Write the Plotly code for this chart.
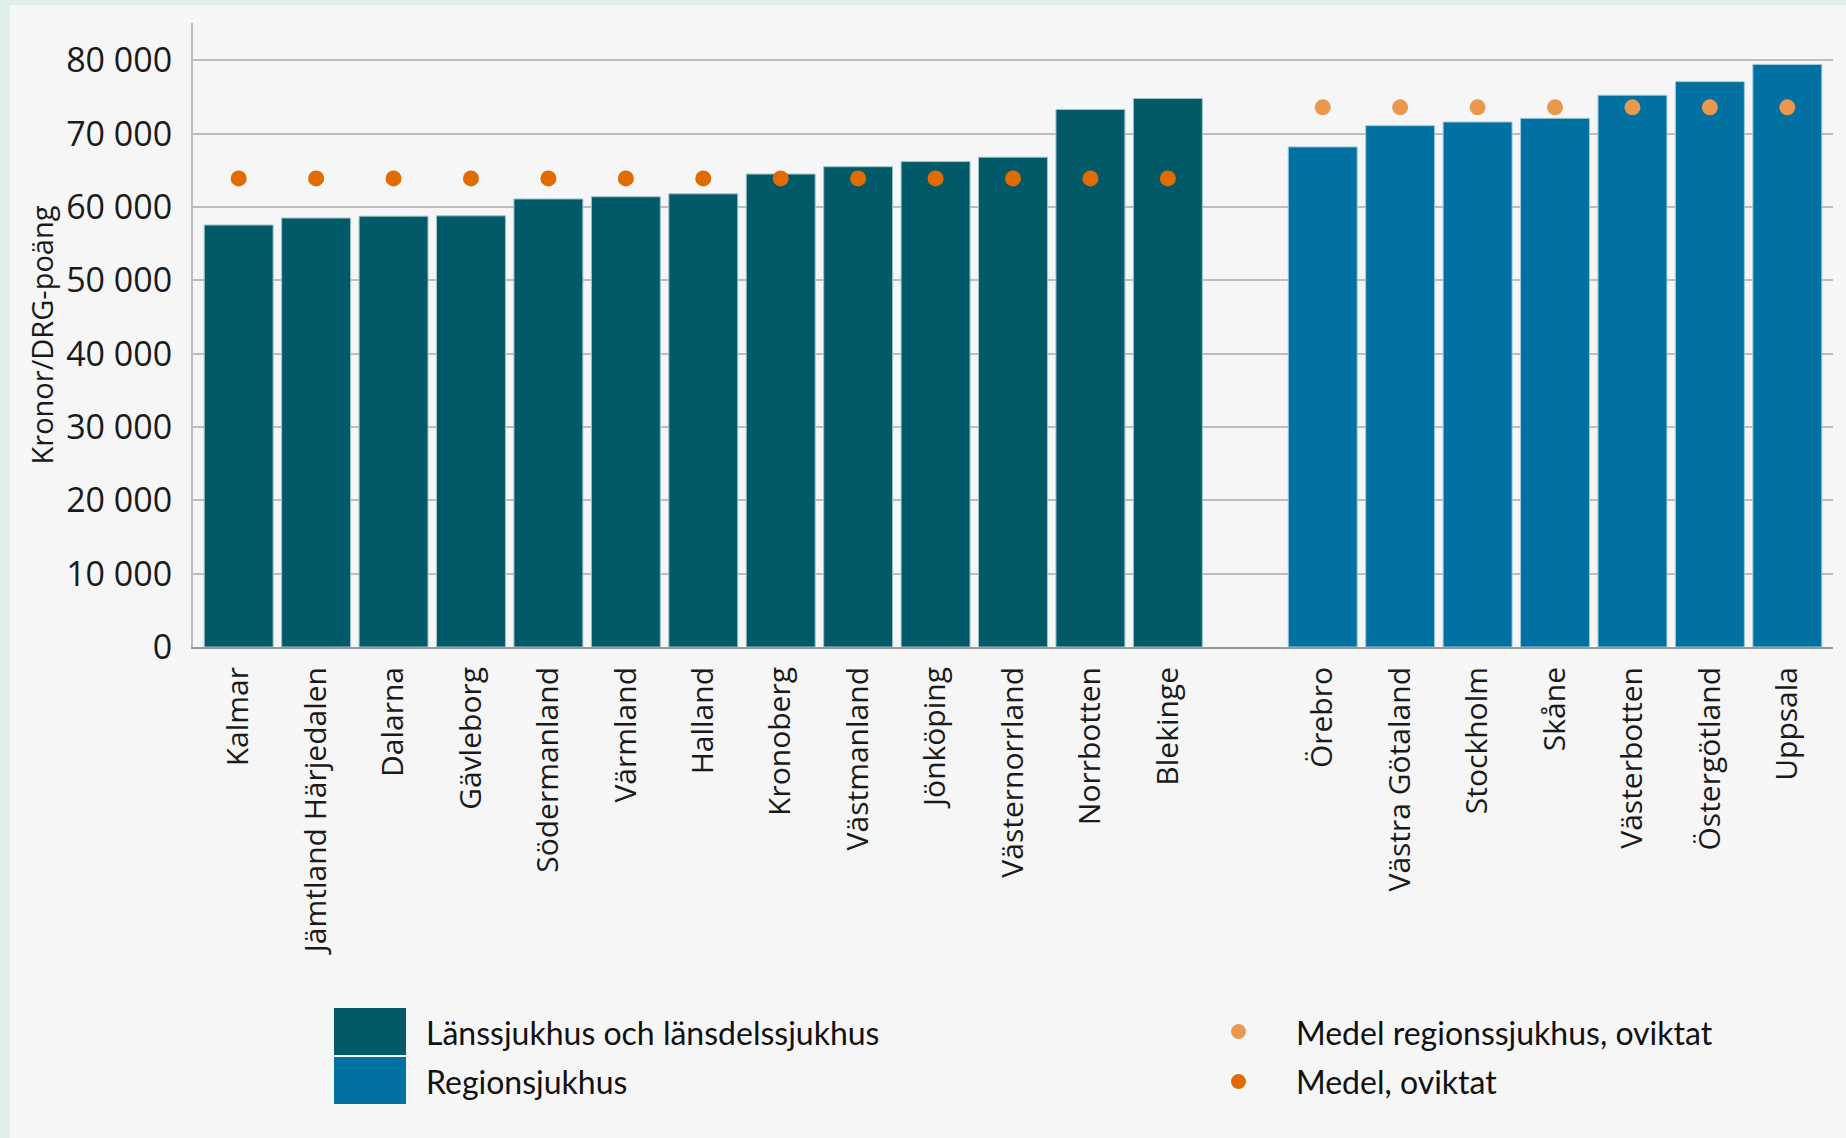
import plotly.graph_objects as go

# Kronor per DRG-poäng
lans_names = ["Kalmar", "Jämtland Härjedalen", "Dalarna", "Gävleborg", "Södermanland",
              "Värmland", "Halland", "Kronoberg", "Västmanland", "Jönköping",
              "Västernorrland", "Norrbotten", "Blekinge"]
lans_values = [57550, 58500, 58750, 58800, 61100, 61400, 61800, 64500, 65500,
               66200, 66800, 73300, 74800]

region_names = ["Örebro", "Västra Götaland", "Stockholm", "Skåne", "Västerbotten",
                "Östergötland", "Uppsala"]
region_values = [68200, 71100, 71600, 72100, 75250, 77100, 79450]

medel_oviktat = [63900] * len(lans_names)
medel_region = [73600] * len(region_names)

spacer = " "
categories = lans_names + [spacer] + region_names
ytick_vals = [0, 10000, 20000, 30000, 40000, 50000, 60000, 70000, 80000]

TEAL = "#025a69"
BLUE = "#0071a1"
ORANGE = "#e06c00"
LIGHT_ORANGE = "#ea984e"
W, H = 1846, 1138
L, R, T, B = 193, 13, 23, 491

fig = go.Figure()
fig.add_trace(go.Bar(x=lans_names, y=lans_values, name="Länssjukhus och länsdelssjukhus",
                     marker=dict(color=TEAL, line=dict(color="#9cc3cb", width=1))))
fig.add_trace(go.Bar(x=region_names, y=region_values, name="Regionsjukhus",
                     marker=dict(color=BLUE, line=dict(color="#9cc8dc", width=1))))
fig.add_trace(go.Scatter(x=lans_names, y=medel_oviktat, mode="markers", name="Medel, oviktat",
                         marker=dict(color=ORANGE, size=16)))
fig.add_trace(go.Scatter(x=region_names, y=medel_region, mode="markers",
                         name="Medel regionssjukhus, oviktat",
                         marker=dict(color=LIGHT_ORANGE, size=16)))


# pixel -> paper helpers for the hand drawn legend and frame
def px(x):
    return (x - L) / (W - L - R)


def py(y):
    return (H - B - y) / (H - B - T)


shapes = [
    # mint frame on left and top
    dict(type="rect", xref="paper", yref="paper", x0=px(0), x1=px(10), y0=py(H), y1=py(0),
         fillcolor="#e1efeb", line=dict(width=0), layer="below"),
    dict(type="rect", xref="paper", yref="paper", x0=px(0), x1=px(W), y0=py(5), y1=py(0),
         fillcolor="#e1efeb", line=dict(width=0), layer="below"),
    # legend swatches
    dict(type="rect", xref="paper", yref="paper", x0=px(334), x1=px(406), y0=py(1055), y1=py(1008),
         fillcolor=TEAL, line=dict(width=0)),
    dict(type="rect", xref="paper", yref="paper", x0=px(334), x1=px(406), y0=py(1104), y1=py(1057),
         fillcolor=BLUE, line=dict(width=0)),
    dict(type="circle", xref="paper", yref="paper", x0=px(1231), x1=px(1246), y0=py(1039), y1=py(1024),
         fillcolor=LIGHT_ORANGE, line=dict(width=0)),
    dict(type="circle", xref="paper", yref="paper", x0=px(1231), x1=px(1246), y0=py(1089), y1=py(1074),
         fillcolor=ORANGE, line=dict(width=0)),
]

legend_font = dict(family="Lato", size=32, color="#111111")
annotations = [
    dict(text="Länssjukhus och länsdelssjukhus", x=px(424), y=py(1032)),
    dict(text="Regionsjukhus", x=px(424), y=py(1081)),
    dict(text="Medel regionssjukhus, oviktat", x=px(1294), y=py(1032)),
    dict(text="Medel, oviktat", x=px(1294), y=py(1081)),
]
for a in annotations:
    a.update(xref="paper", yref="paper", xanchor="left", yanchor="middle",
             showarrow=False, font=legend_font)

fig.update_layout(
    width=W, height=H,
    margin=dict(l=L, r=R, t=T, b=B),
    paper_bgcolor="#f6f6f6",
    plot_bgcolor="#f6f6f6",
    separators=", ",
    barmode="overlay",
    bargap=0.11,
    showlegend=False,
    shapes=shapes,
    annotations=annotations,
    font=dict(family="Open Sans", color="#1a1a1a"),
)
fig.update_xaxes(
    type="category", categoryorder="array", categoryarray=categories,
    range=[-0.59, len(categories) - 0.41],
    tickangle=-90, tickfont=dict(size=30), ticks="", ticklabelstandoff=6,
    showline=True, linecolor="#9a9a9a", linewidth=2, showgrid=False,
)
fig.update_yaxes(
    range=[0, 85100], tickvals=ytick_vals, tickformat=",d",
    tickfont=dict(size=34), ticks="", ticklabelstandoff=12,
    showgrid=True, gridcolor="#bdbdbd", gridwidth=1.5,
    zeroline=False, showline=True, linecolor="#bdbdbd", linewidth=2,
    title=dict(text="Kronor/DRG-poäng", font=dict(size=29), standoff=4),
)

fig.write_html("out.html", config={"displayModeBar": False},
               post_script="document.body.style.margin='0';")
